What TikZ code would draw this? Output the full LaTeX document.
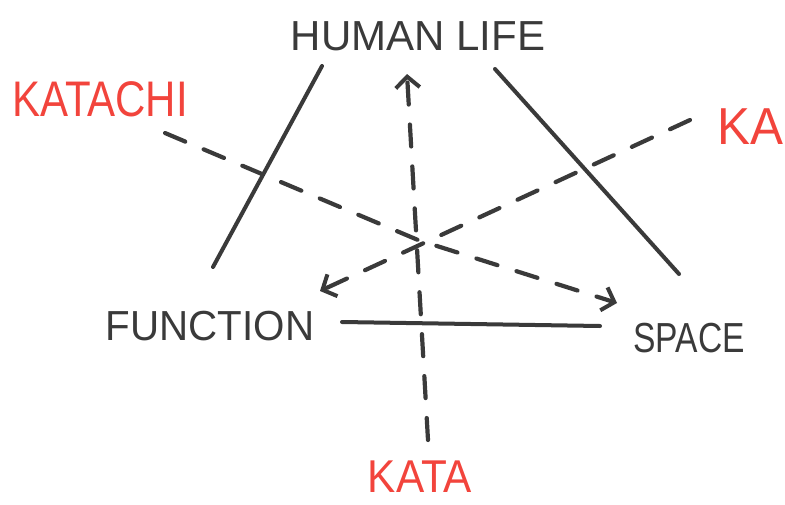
\documentclass[tikz,border=0pt]{standalone}
\usepackage{fontspec}
\setmainfont{Liberation Sans}
\usetikzlibrary{arrows.meta}
\definecolor{pencil}{HTML}{3A3A3A}
\definecolor{redpen}{HTML}{F2443C}
\begin{document}
\begin{tikzpicture}[x=1pt,y=-1pt,
  label/.style={inner sep=0pt,text=pencil},
  redlabel/.style={inner sep=0pt,text=redpen},
  solidline/.style={draw=pencil,line width=4pt,line cap=round},
  dashline/.style={draw=pencil,line width=4.2pt,line cap=round,dash pattern=on 22pt off 20pt},
  barb/.style={-{Straight Barb[length=11pt,width=24pt,line width=4pt]}}]
\useasboundingbox (0,0) rectangle (785,504);
\fill[white] (0,0) rectangle (785,504);
% texts
\node[label,font=\fontsize{42}{42}\selectfont] (human) at (418,36) {HUMAN LIFE};
\node[label,font=\fontsize{42}{42}\selectfont,xscale=0.96,transform shape] (function) at (210,326) {FUNCTION};
\node[label,font=\fontsize{42}{42}\selectfont,xscale=0.8,transform shape] (space) at (689,338) {SPACE};
\node[redlabel,font=\fontsize{50}{50}\selectfont,xscale=0.84,transform shape] (katachi) at (100,99) {KATACHI};
\node[redlabel,font=\fontsize{52}{52}\selectfont,xscale=0.95,transform shape] (ka) at (750,127) {KA};
\node[redlabel,font=\fontsize{46}{46}\selectfont,xscale=0.92,transform shape] (kata) at (420,477) {KATA};
% coordinates
\coordinate (ltop) at (322,66);
\coordinate (lbot) at (213,267);
\coordinate (rtop) at (495,69);
\coordinate (rbot) at (679,274);
\coordinate (bl) at (342,322);
\coordinate (br) at (600,326);
\coordinate (c) at (418,240);
\coordinate (vbot) at (428,440);
\coordinate (vtop) at (407,74);
\coordinate (kcs) at (165,133);
\coordinate (kce) at (617,303);
\coordinate (kas) at (690,120);
\coordinate (kae) at (320,291);
% triangle
\draw[solidline] (ltop) -- (lbot);
\draw[solidline] (rtop) -- (rbot);
\draw[solidline] (bl) -- (br);
% dashed axes
\draw[dashline,barb] (vbot) -- (vtop);
\draw[dashline,barb] (kcs) -- (c) -- (kce);
\draw[dashline,barb] (kas) -- (kae);
\end{tikzpicture}
\end{document}
